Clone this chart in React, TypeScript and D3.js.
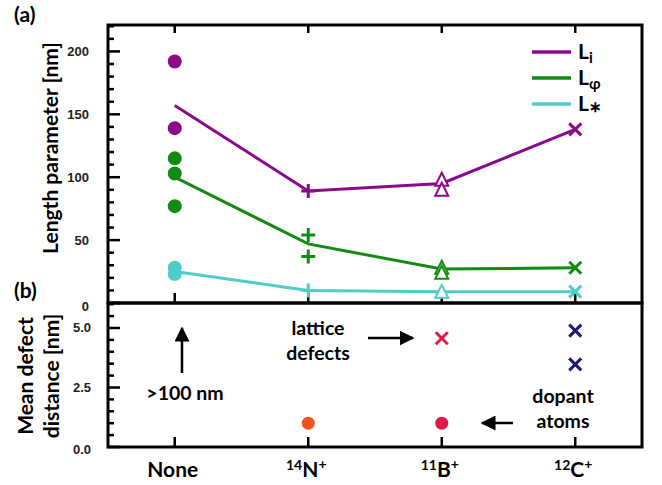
import React from "react";
import * as d3 from "d3";

const massNumbers = ["", "14", "11", "12"];
const elements = ["None", "N", "B", "C"];
const charges = ["", "+", "+", "+"];
const markerShapes = ["circle", "plus", "triangle", "cross"];

const liLine = [157, 89, 95, 138];
const lphiLine = [100, 47, 27, 28];
const lstarLine = [25, 10, 9, 9];

const liMeasured = [[192, 139], [89], [98, 90], [138]];
const lphiMeasured = [[115, 103, 77], [54, 37], [28, 24], [28]];
const lstarMeasured = [[28, 23], [10], [9], [9]];

const topTicks = [0, 50, 100, 150, 200];
const bottomTicks = [0, 2.5, 5.0];

const dopantCats = [1, 2];
const dopantValues = [1.0, 1.0];
const dopantColors = ["#f4511e", "#e0194a"];
const defectCats = [2, 3, 3];
const defectValues = [4.57, 4.89, 3.47];
const defectColors = ["#e0194a", "#1a1a7a", "#1a1a7a"];

const seriesNames = ["i", "φ", "∗"];
const seriesColors = ["#8a0a8a", "#138a13", "#4ecdc9"];

const FONT = "Lato, 'Open Sans', Arial, sans-serif";

function Marker({ shape, x, y, color }: { shape: string; x: number; y: number; color: string }) {
  if (shape === "circle") return <circle cx={x} cy={y} r={7} fill={color} />;
  if (shape === "plus")
    return <path d={`M${x - 7},${y}H${x + 7}M${x},${y - 7}V${y + 7}`} stroke={color} strokeWidth={3} fill="none" />;
  if (shape === "triangle")
    return (
      <path
        d={`M${x},${y - 7}L${x + 6.5},${y + 6}L${x - 6.5},${y + 6}Z`}
        stroke={color}
        strokeWidth={2}
        fill="white"
      />
    );
  return <path d={`M${x - 6},${y - 6}L${x + 6},${y + 6}M${x - 6},${y + 6}L${x + 6},${y - 6}`} stroke={color} strokeWidth={3} fill="none" />;
}

export default function App() {
  const W = 662, H = 485;
  const left = 108, right = 642, top = 25, mid = 303, bottom = 447;
  const x = d3.scaleLinear().domain([-0.5, 3.5]).range([left, right]);
  const yTop = d3.scaleLinear().domain([0, 221]).range([mid, top]);
  const yBot = d3.scaleLinear().domain([0, 6.05]).range([bottom, mid]);
  const line = d3.line<number>().x((_, i) => x(i)).y((d) => yTop(d));

  const lines = [liLine, lphiLine, lstarLine];
  const measured = [liMeasured, lphiMeasured, lstarMeasured];

  const topMinor = d3.range(0, 221, 10);
  const botMinor = d3.range(0, 6.01, 0.5);
  const annSize = 19.5;

  return (
    <svg width={W} height={H} style={{ position: "absolute", left: 0, top: 0, background: "white" }} fontFamily={FONT}>
      <rect width={W} height={H} fill="white" />
      {/* panel labels */}
      <text x={14} y={22} fontSize={21} fontWeight="bold">(a)</text>
      <text x={14} y={298} fontSize={21} fontWeight="bold">(b)</text>

      {/* axis titles */}
      <text transform={`translate(58,148) rotate(-90)`} textAnchor="middle" fontSize={21} fontWeight="bold">
        Length parameter [nm]
      </text>
      <text transform={`translate(33,376) rotate(-90)`} textAnchor="middle" fontSize={21} fontWeight="bold">
        Mean defect
      </text>
      <text transform={`translate(59,376) rotate(-90)`} textAnchor="middle" fontSize={21} fontWeight="bold">
        distance [nm]
      </text>

      {/* y ticks top */}
      {topMinor.map((v) => (
        <line key={"tm" + v} x1={left} x2={left + (v % 50 === 0 ? 12 : 6)} y1={yTop(v)} y2={yTop(v)} stroke="black" strokeWidth={2.5} />
      ))}
      {topTicks.map((v) => (
        <text key={"tt" + v} x={89} y={yTop(v) + (v === 0 ? 8 : 4.5)} textAnchor="end" fontSize={13} fontWeight="bold" fontFamily="Arial, 'Liberation Sans', sans-serif" fill="#222">
          {v}
        </text>
      ))}
      {botMinor.map((v) => (
        <line key={"bm" + v} x1={left} x2={left + (Math.abs(v % 2.5) < 1e-6 ? 12 : 6)} y1={yBot(v)} y2={yBot(v)} stroke="black" strokeWidth={2.5} />
      ))}
      {bottomTicks.map((v) => (
        <text key={"bt" + v} x={91} y={yBot(v) + (v === 0 ? 7 : 4.5)} textAnchor="end" fontSize={13} fontWeight="bold" fontFamily="Arial, 'Liberation Sans', sans-serif" fill="#222">
          {v.toFixed(1)}
        </text>
      ))}

      {/* x ticks */}
      {elements.map((_, i) => (
        <g key={"xt" + i}>
          <line x1={x(i)} x2={x(i)} y1={top} y2={top + 8} stroke="black" strokeWidth={2.5} />
          <line x1={x(i)} x2={x(i)} y1={mid} y2={mid - 10} stroke="black" strokeWidth={2.5} />
          <line x1={x(i)} x2={x(i)} y1={bottom} y2={bottom - 10} stroke="black" strokeWidth={2.5} />
        </g>
      ))}

      {/* x labels */}
      {elements.map((el, i) => (
        <text key={"xl" + i} x={x(i) - 2} y={477} textAnchor="middle" fontSize={21} fontWeight="bold">
          {massNumbers[i] && <tspan fontSize={14} dy={-7}>{massNumbers[i]}</tspan>}
          <tspan dy={massNumbers[i] ? 7 : 0}>{el}</tspan>
          {charges[i] && <tspan fontSize={14} dy={-8}>{charges[i]}</tspan>}
        </text>
      ))}

      {/* data lines */}
      {lines.map((ln, s) => (
        <path key={"ln" + s} d={line(ln) || ""} fill="none" stroke={seriesColors[s]} strokeWidth={3} />
      ))}
      {measured.map((series, s) =>
        series.map((vals, ci) =>
          vals.map((v, k) => (
            <Marker key={`m${s}-${ci}-${k}`} shape={markerShapes[ci]} x={x(ci)} y={yTop(v)} color={seriesColors[s]} />
          ))
        )
      )}

      {/* legend */}
      {seriesNames.map((n, i) => (
        <g key={"lg" + i}>
          <line x1={532} x2={571} y1={52 + i * 26} y2={52 + i * 26} stroke={seriesColors[i]} strokeWidth={3.5} />
          <text x={578} y={52 + i * 26 + 7} fontSize={21} fontWeight="bold">
            L<tspan fontSize={15} dy={i === 2 ? 1 : 4}>{n}</tspan>
          </text>
        </g>
      ))}

      {/* bottom panel markers */}
      {dopantCats.map((c, i) => (
        <circle key={"dp" + i} cx={x(c)} cy={yBot(dopantValues[i])} r={6.5} fill={dopantColors[i]} />
      ))}
      {defectCats.map((c, i) => (
        <Marker key={"df" + i} shape="cross" x={x(c)} y={yBot(defectValues[i])} color={defectColors[i]} />
      ))}

      {/* annotations */}
      <defs>
        <marker id="ah" viewBox="0 0 10 10" refX={9} refY={5} markerWidth={6} markerHeight={6} orient="auto">
          <path d="M0,0L10,5L0,10Z" fill="black" />
        </marker>
      </defs>
      <line x1={182} y1={373} x2={182} y2={328} stroke="black" strokeWidth={2.5} markerEnd="url(#ah)" />
      <text x={185} y={400} textAnchor="middle" fontSize={annSize} fontWeight="bold">&gt;100 nm</text>
      <text x={318} y={335} textAnchor="middle" fontSize={annSize} fontWeight="bold">lattice</text>
      <text x={318} y={360} textAnchor="middle" fontSize={annSize} fontWeight="bold">defects</text>
      <line x1={368} y1={338} x2={413} y2={338} stroke="black" strokeWidth={2.5} markerEnd="url(#ah)" />
      <text x={563} y={403} textAnchor="middle" fontSize={annSize} fontWeight="bold">dopant</text>
      <text x={563} y={428} textAnchor="middle" fontSize={annSize} fontWeight="bold">atoms</text>
      <line x1={513} y1={423} x2={482} y2={423} stroke="black" strokeWidth={2.5} markerEnd="url(#ah)" />

      {/* frames */}
      <rect x={left} y={top} width={right - left} height={mid - top} fill="none" stroke="black" strokeWidth={3} />
      <rect x={left} y={mid} width={right - left} height={bottom - mid} fill="none" stroke="black" strokeWidth={3} />
    </svg>
  );
}
